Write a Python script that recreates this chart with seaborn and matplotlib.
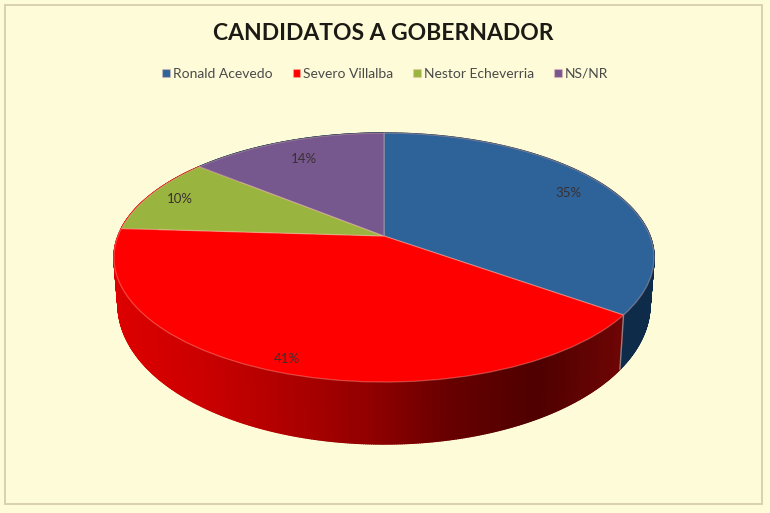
# coding = utf-8
"""
pie chart "candidatos a gobernador", tilted with a side wall
"""
import numpy as np
import seaborn as sns
import matplotlib.pyplot as plt
from matplotlib.collections import PolyCollection
from matplotlib.patches import Rectangle
from matplotlib.transforms import Transform

TITLE = "CANDIDATOS A GOBERNADOR"
candidates = ["Ronald Acevedo", "Severo Villalba", "Nestor Echeverria", "NS/NR"]
percent = [35, 41, 10, 14]
colors = ["#2e6399", "#fe0000", "#9ab53f", "#77588e"]

BACKGROUND = "#fefbd9"

# tilt of the disc, in pixels around the point where the slices meet
APEX_X, APEX_Y = 384, 236
SCALE_X, SCALE_Y, PERSPECTIVE = 266, 120.8, 0.1727
WALL = 62


class Tilt(Transform):
    """ unit circle of the pie -> tilted disc in pixel coordinates """
    input_dims = 2
    output_dims = 2
    is_separable = False
    has_inverse = False

    def transform_non_affine(self, values):
        values = np.asarray(values, dtype=float)
        w = 1 + PERSPECTIVE * values[:, 1]
        return np.column_stack([APEX_X + SCALE_X * values[:, 0] / w,
                                APEX_Y - SCALE_Y * values[:, 1] / w])


def draw_wall(ax, tilt):
    """ side of the pie, one strip per small angle step """
    red_shades = sns.blend_palette(["#dd0000", "#cc0000", "#b00000", "#920000",
                                    "#660000", "#4f0000", "#6e0505"], 256)
    blue_shades = sns.blend_palette(["#15395c", "#0e2c4a"], 256)
    wall_shades = [blue_shades, red_shades, red_shades, blue_shades]

    edges = 90 - 3.6 * np.concatenate([[0], np.cumsum(percent)])
    for i in range(len(percent)):
        theta = np.radians(np.linspace(edges[i], edges[i + 1], 400))
        circle = np.column_stack([np.cos(theta), np.sin(theta)])
        top = tilt.transform(circle)
        depth = WALL * (0.7 - 0.3 * circle[:, 1])
        low = np.column_stack([APEX_X + (top[:, 0] - APEX_X) * 0.985,
                               top[:, 1] + depth])

        strips = []
        strip_colors = []
        for j in range(len(theta) - 1):
            strips.append([top[j], top[j + 1], low[j + 1], low[j]])
            pos = np.clip((top[j, 0] - 113) / (622 - 113), 0, 1)
            strip_colors.append(wall_shades[i][int(pos * 255)])
        ax.add_collection(PolyCollection(strips, facecolors=strip_colors,
                                         edgecolors=strip_colors, linewidths=1.0))

        # pale seam where one slice meets the next
        if i == 0:
            ax.plot([top[-1, 0], low[-1, 0]], [top[-1, 1], low[-1, 1]],
                    color="#8f7f86", lw=1.0)


def main():
    sns.set_theme(style="white")
    plt.rcParams["font.family"] = ["Lato", "DejaVu Sans"]

    fig, ax = plt.subplots(figsize=(7.7, 5.13), dpi=100)
    fig.patch.set_facecolor(BACKGROUND)
    ax.set_position([0, 0, 1, 1])

    tilt = Tilt()

    draw_wall(ax, tilt)

    wedges, texts, autotexts = ax.pie(
        percent, colors=colors, startangle=90, counterclock=False,
        autopct="%.0f%%", pctdistance=0.85,
        wedgeprops={"edgecolor": (1, 0.75, 0.7, 0.35), "linewidth": 0.9},
        textprops={"fontsize": 9.5, "color": "#3a3030"})

    for wedge in wedges:
        wedge.set_transform(tilt + ax.transData)

    # each label sits at its own distance from the apex
    label_radius = [0.83, 0.92, 0.87, 0.79]
    for text, radius in zip(autotexts, label_radius):
        x, y = text.get_position()
        text.set_position((x * radius / 0.85, y * radius / 0.85))
        text.set_transform(tilt + ax.transData)

    ax.set_aspect("auto")
    ax.set_xlim(0, 770)
    ax.set_ylim(513, 0)
    ax.axis("off")

    ax.add_patch(Rectangle((5, 5), 757, 499, fill=False,
                           edgecolor="#d9d0b0", linewidth=1.4))

    ax.text(383, 34, TITLE, ha="center", va="center", fontsize=16.5,
            fontweight="bold", color="#1c1a14")

    ax.legend(wedges, candidates, ncol=4, loc="center", frameon=False,
              bbox_to_anchor=(385 / 770, 1 - 74 / 513), fontsize=10,
              labelcolor="#4a4a48", handlelength=0.55, handleheight=0.55,
              handletextpad=0.2, columnspacing=1.45)

    plt.savefig("out.png", facecolor=BACKGROUND)
    plt.close()


if __name__ == "__main__":
    main()
